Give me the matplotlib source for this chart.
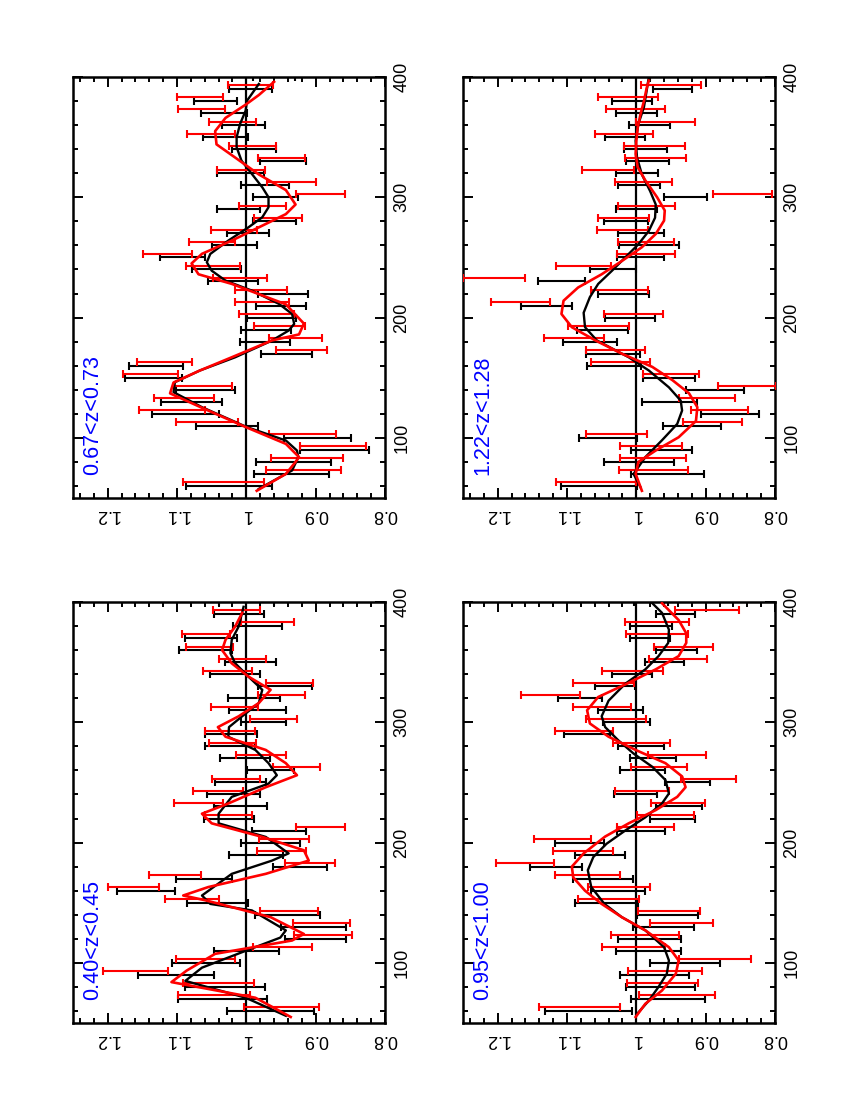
import matplotlib
matplotlib.use('Agg')
import matplotlib.pyplot as plt
from matplotlib.ticker import MultipleLocator, FuncFormatter

plt.rcParams['font.family'] = ['Liberation Sans', 'DejaVu Sans']

# bin positions (scale) for black and red points
x_black = [60, 70, 80, 90, 100, 110, 120, 130, 140, 150, 160, 170, 180, 190, 200, 210, 220, 230,
           240, 250, 260, 270, 280, 290, 300, 310, 320, 330, 340, 350, 360, 370, 380, 390, 400]
x_red = [63, 73, 83, 93, 103, 113, 123, 133, 143, 153, 163, 173, 183, 193, 203, 213, 223, 233,
         243, 253, 263, 273, 283, 293, 303, 313, 323, 333, 343, 353, 363, 373, 383, 393, 403]

# 0.67<z<0.73
b067 = [1.025, 0.935, 0.932, 0.873, 0.897, 1.028, 1.088, 1.079, 1.059, 1.134, 1.130, 0.942, 0.973, 0.972,
        0.964, 0.950, 0.947, 1.019, 1.043, 1.092, 1.017, 0.998, 0.959, 1.011, 0.958, 0.973, 1.009, 0.947,
        0.989, 1.030, 1.004, 1.032, 1.044, 0.994, 0.960]
be067 = [0.062, 0.054, 0.054, 0.050, 0.048, 0.045, 0.048, 0.044, 0.042, 0.041, 0.039, 0.037, 0.036, 0.036,
         0.035, 0.036, 0.036, 0.036, 0.036, 0.033, 0.032, 0.030, 0.031, 0.031, 0.033, 0.034, 0.034, 0.033,
         0.032, 0.032, 0.031, 0.033, 0.031, 0.031, 0.030]
r067 = [1.033, 0.918, 0.912, 0.875, 0.919, 1.057, 1.107, 1.090, 1.062, 1.138, 1.118, 0.920, 0.929, 0.952,
        0.971, 0.977, 0.979, 1.009, 1.048, 1.114, 1.049, 1.018, 0.954, 0.977, 0.893, 0.935, 1.008, 0.949,
        0.991, 1.051, 1.020, 1.065, 1.067, 0.994, 0.912]
re067 = [0.058, 0.054, 0.052, 0.047, 0.048, 0.045, 0.048, 0.043, 0.042, 0.040, 0.040, 0.037, 0.038, 0.037,
         0.040, 0.039, 0.037, 0.039, 0.039, 0.035, 0.033, 0.033, 0.035, 0.034, 0.036, 0.035, 0.035, 0.034,
         0.034, 0.034, 0.034, 0.034, 0.033, 0.032, 0.031]
cb067_x = [57.6, 72.9, 83.9, 89.5, 97.8, 108.9, 125.5, 138, 146.3, 156, 167, 180.9, 189.2, 194.7, 203, 211.4,
           222.4, 230.7, 239, 246, 252.9, 264, 275, 283.4, 291.7, 300, 308.3, 319.4, 330.5, 341.6, 349.9,
           361, 372, 380.3, 394.2]
cb067_v = [0.982, 0.934, 0.925, 0.927, 0.943, 0.999, 1.064, 1.105, 1.103, 1.067, 1.016, 0.963, 0.939, 0.931,
           0.934, 0.953, 0.992, 1.030, 1.050, 1.057, 1.052, 1.026, 0.997, 0.977, 0.968, 0.968, 0.977, 0.992,
           1.007, 1.014, 1.014, 1.009, 1.001, 0.999, 0.982]
cr067_x = [56, 70, 80, 84, 95, 109, 125, 137, 146, 156, 167, 181, 186, 195, 211, 228, 236, 245, 253, 264,
           275, 286, 294, 306, 319, 333, 344, 355, 366, 377, 385, 396]
cr067_v = [0.985, 0.943, 0.929, 0.924, 0.943, 1.001, 1.064, 1.110, 1.105, 1.067, 1.021, 0.963, 0.924, 0.917,
           0.943, 1.021, 1.069, 1.079, 1.064, 1.021, 0.982, 0.943, 0.929, 0.943, 0.982, 1.016, 1.043, 1.045,
           1.030, 1.001, 0.982, 0.960]

# 1.22<z<1.28
b122 = [1.054, 0.955, 0.996, 0.964, 1.041, 0.920, 0.865, 0.952, 0.886, 0.953, 1.032, 1.033, 1.067, 1.049,
        1.009, 1.130, 1.019, 1.108, 1.034, 0.994, 0.982, 0.993, 1.015, 1.000, 0.929, 0.996, 0.999, 0.984,
        0.987, 1.016, 0.981, 1.000, 1.006, 0.948, 1.010]
be122 = [0.055, 0.052, 0.050, 0.044, 0.042, 0.042, 0.042, 0.040, 0.042, 0.038, 0.039, 0.039, 0.039, 0.037,
         0.036, 0.037, 0.037, 0.034, 0.033, 0.034, 0.043, 0.033, 0.032, 0.030, 0.031, 0.030, 0.030, 0.031,
         0.031, 0.029, 0.030, 0.030, 0.029, 0.028, 0.030]
r122 = [1.058, 0.975, 0.976, 0.979, 1.029, 0.890, 0.880, 0.898, 0.840, 0.950, 1.023, 1.030, 1.090, 1.055,
        1.004, 1.167, 1.024, 1.205, 1.076, 0.986, 0.986, 1.020, 1.019, 0.985, 0.847, 0.990, 1.041, 0.972,
        0.974, 1.018, 0.958, 1.001, 1.012, 0.950, 1.018]
re122 = [0.058, 0.050, 0.048, 0.045, 0.044, 0.043, 0.041, 0.041, 0.042, 0.040, 0.043, 0.043, 0.043, 0.044,
         0.042, 0.042, 0.041, 0.045, 0.040, 0.042, 0.040, 0.037, 0.037, 0.041, 0.043, 0.041, 0.037, 0.044,
         0.044, 0.042, 0.043, 0.043, 0.043, 0.043, 0.043]
cb122_x = [59, 70, 84, 98, 111.6, 122.7, 131, 142, 156, 167, 181, 192, 204, 217, 228, 239, 250, 261, 272,
           283, 294, 305, 319, 333, 347, 361, 375, 389, 400]
cb122_v = [0.994, 1.004, 0.987, 0.963, 0.941, 0.934, 0.936, 0.953, 0.982, 1.011, 1.057, 1.074, 1.076, 1.067,
           1.055, 1.035, 1.016, 0.997, 0.982, 0.973, 0.972, 0.980, 0.992, 0.999, 1.001, 0.997, 0.989, 0.985,
           0.982]
cr122_x = [56, 70, 80, 89.5, 100.5, 114, 125.5, 137, 148, 159, 170, 181, 192, 203, 214, 225, 236, 247,
           258.5, 269.5, 280.6, 289, 300, 314, 325, 336, 347, 358, 369, 380, 391, 397]
cr122_v = [0.992, 1.001, 0.997, 0.972, 0.939, 0.914, 0.912, 0.924, 0.948, 0.977, 1.021, 1.059, 1.093, 1.108,
           1.105, 1.084, 1.050, 1.021, 0.992, 0.972, 0.960, 0.959, 0.970, 0.987, 0.998, 1.001, 1.000, 0.998,
           0.994, 0.989, 0.985, 0.982]

# 0.40<z<0.45
b040 = [0.965, 1.034, 1.031, 1.101, 1.058, 1.000, 0.900, 0.903, 0.941, 1.042, 1.145, 1.061, 0.923, 0.986,
        0.965, 0.953, 1.025, 1.008, 1.019, 1.008, 0.965, 1.002, 1.024, 1.022, 0.975, 0.984, 0.989, 0.944,
        1.016, 0.994, 1.059, 1.051, 0.984, 1.010, 1.000]
be040 = [0.063, 0.064, 0.058, 0.055, 0.049, 0.047, 0.044, 0.047, 0.047, 0.044, 0.042, 0.041, 0.039, 0.039,
         0.042, 0.039, 0.036, 0.038, 0.038, 0.037, 0.034, 0.036, 0.036, 0.037, 0.032, 0.041, 0.038, 0.039,
         0.036, 0.037, 0.038, 0.037, 0.035, 0.036, 0.040]
r040 = [0.949, 1.046, 1.040, 1.160, 1.059, 0.948, 0.889, 0.891, 0.938, 1.078, 1.163, 1.103, 0.908, 0.949,
        0.946, 0.893, 1.026, 1.069, 1.041, 1.015, 0.928, 0.979, 1.020, 1.023, 0.961, 1.017, 0.949, 0.938,
        1.027, 1.005, 1.053, 1.058, 0.969, 1.014, 1.013]
re040 = [0.054, 0.052, 0.051, 0.047, 0.043, 0.042, 0.042, 0.041, 0.042, 0.039, 0.037, 0.037, 0.036, 0.035,
         0.036, 0.036, 0.034, 0.036, 0.036, 0.035, 0.034, 0.036, 0.034, 0.036, 0.034, 0.034, 0.034, 0.034,
         0.035, 0.034, 0.034, 0.035, 0.038, 0.034, 0.037]
cb040_x = [56, 71, 85, 96, 110, 121, 127, 143.6, 149, 156, 174, 185, 191, 196, 204.7, 216, 224, 238, 249,
           256, 266, 277, 288, 296, 305, 316, 327, 338, 349, 357.5, 368.6, 379.7, 396]
cb040_v = [0.943, 1.001, 1.088, 1.064, 1.001, 0.951, 0.943, 0.992, 1.052, 1.064, 1.021, 0.963, 0.939, 0.951,
           0.972, 1.040, 1.040, 1.021, 0.968, 0.956, 0.968, 0.987, 1.026, 1.025, 1.006, 0.982, 0.977, 0.997,
           1.016, 1.023, 1.021, 1.011, 1.004]
cr040_x = [55, 71, 84, 93.6, 107.5, 118.6, 124, 138, 152, 156, 163, 174, 185, 193.6, 204.7, 216, 224, 232.5,
           246, 256, 266, 277, 288, 296, 305, 316, 327, 338, 349, 360, 368.6, 379.7, 391]
cr040_v = [0.936, 0.987, 1.108, 1.086, 1.045, 0.934, 0.917, 0.965, 1.059, 1.091, 1.055, 0.972, 0.910, 0.917,
           0.977, 1.050, 1.064, 1.026, 0.972, 0.927, 0.943, 0.972, 1.030, 1.041, 1.011, 0.982, 0.965, 0.997,
           1.021, 1.035, 1.030, 1.016, 1.006]

# 0.95<z<1.00
b095 = [1.069, 0.954, 0.965, 0.974, 0.930, 0.983, 0.981, 0.961, 0.955, 1.043, 1.026, 1.048, 1.116, 1.053,
        1.082, 0.993, 0.948, 0.939, 1.001, 0.926, 0.991, 0.976, 0.993, 1.071, 1.014, 1.023, 1.081, 1.031,
        1.006, 0.959, 0.942, 0.980, 0.979, 0.943, 0.979]
be095 = [0.063, 0.053, 0.050, 0.050, 0.050, 0.047, 0.045, 0.044, 0.044, 0.045, 0.039, 0.043, 0.037, 0.036,
         0.035, 0.035, 0.033, 0.033, 0.031, 0.032, 0.032, 0.033, 0.033, 0.033, 0.034, 0.032, 0.032, 0.029,
         0.029, 0.028, 0.030, 0.029, 0.030, 0.028, 0.024]
r095 = [1.082, 0.941, 0.962, 0.959, 0.887, 1.004, 0.988, 0.935, 0.953, 1.040, 1.025, 1.070, 1.161, 1.077,
        1.106, 0.987, 0.958, 0.940, 0.992, 0.896, 0.967, 0.941, 0.993, 1.076, 1.029, 1.050, 1.124, 1.048,
        1.005, 0.940, 0.932, 0.970, 0.970, 0.898, 0.935]
re095 = [0.059, 0.055, 0.051, 0.053, 0.052, 0.046, 0.049, 0.046, 0.045, 0.044, 0.045, 0.047, 0.042, 0.043,
         0.041, 0.041, 0.041, 0.039, 0.039, 0.040, 0.040, 0.042, 0.041, 0.042, 0.043, 0.042, 0.043, 0.044,
         0.044, 0.042, 0.043, 0.045, 0.046, 0.046, 0.042]
cb095_x = [57.5, 68.6, 80, 91, 102, 113, 127, 138, 149, 163, 177, 188, 199, 210, 221, 232.5, 240.8, 252,
           263, 274, 285, 296, 305, 318, 332, 344, 355, 366, 377, 391, 399]
cb095_v = [0.999, 0.982, 0.968, 0.956, 0.953, 0.960, 0.987, 1.021, 1.046, 1.065, 1.070, 1.062, 1.043, 1.016,
           0.987, 0.963, 0.953, 0.958, 0.977, 1.004, 1.026, 1.045, 1.050, 1.040, 1.016, 0.987, 0.968, 0.954,
           0.953, 0.963, 0.977]
cr095_x = [55, 66, 77, 91, 102, 113, 127, 138, 149, 160, 171, 180, 191, 205, 216, 227, 238, 246, 255, 266,
           277, 288, 299, 310, 321, 332, 344, 355, 366, 374, 385, 399]
cr095_v = [1.001, 0.987, 0.963, 0.943, 0.939, 0.953, 0.987, 1.021, 1.050, 1.074, 1.091, 1.093, 1.076, 1.045,
           1.011, 0.972, 0.941, 0.929, 0.934, 0.958, 1.001, 1.040, 1.067, 1.071, 1.055, 1.014, 0.972, 0.939,
           0.928, 0.928, 0.939, 0.963]

panels = [
    ('0.67<z<0.73', b067, be067, r067, re067, cb067_x, cb067_v, cr067_x, cr067_v),
    ('1.22<z<1.28', b122, be122, r122, re122, cb122_x, cb122_v, cr122_x, cr122_v),
    ('0.40<z<0.45', b040, be040, r040, re040, cb040_x, cb040_v, cr040_x, cr040_v),
    ('0.95<z<1.00', b095, be095, r095, re095, cb095_x, cb095_v, cr095_x, cr095_v),
]

W, H = 850, 1100
# panel boxes in pixels: left, top, right, bottom
boxes = [(73, 77, 385, 498), (463, 77, 775, 498), (73, 602, 385, 1023), (463, 602, 775, 1023)]

fig = plt.figure(figsize=(8.5, 11), dpi=100)

for (label, bc, be, rc, rerr, cbx, cbv, crx, crv), (l, t, r, b) in zip(panels, boxes):
    ax = fig.add_axes([l / W, 1 - b / H, (r - l) / W, (b - t) / H])

    ax.axvline(1.0, color='black', lw=1.6, zorder=1)
    ax.errorbar(bc, x_black, xerr=be, fmt='none', ecolor='black', elinewidth=1.5,
                capsize=2.6, capthick=1.5, zorder=2)
    ax.errorbar(rc, x_red, xerr=rerr, fmt='none', ecolor='red', elinewidth=1.5,
                capsize=2.6, capthick=1.5, zorder=3)
    ax.plot(cbv, cbx, color='black', lw=1.7, zorder=4)
    ax.plot(crv, crx, color='red', lw=1.9, zorder=5)

    ax.text(1.221, 69, label, rotation=90, ha='center', va='bottom', color='blue', fontsize=15.5)

    ax.set_xlim(1.25, 0.8)
    ax.set_ylim(50, 400)
    ax.xaxis.set_major_locator(MultipleLocator(0.1))
    ax.xaxis.set_minor_locator(MultipleLocator(0.02))
    ax.yaxis.set_major_locator(MultipleLocator(100))
    ax.yaxis.set_minor_locator(MultipleLocator(20))
    ax.xaxis.set_major_formatter(FuncFormatter(lambda v, p: '%g' % round(v, 2)))

    ax.tick_params(which='both', direction='in', top=True, bottom=True, left=True, right=True,
                   labelbottom=True, labelleft=False, labelright=True, width=1.4,
                   labelsize=13)
    ax.tick_params(which='major', length=7)
    ax.tick_params(which='minor', length=3.8)
    ax.tick_params(axis='x', which='major', labelrotation=180, pad=6)
    ax.tick_params(axis='y', which='major', labelrotation=90, pad=6)
    plt.setp(ax.get_yticklabels(), va='center')
    for s in ax.spines.values():
        s.set_linewidth(1.8)

fig.savefig('out.png', dpi=100)
